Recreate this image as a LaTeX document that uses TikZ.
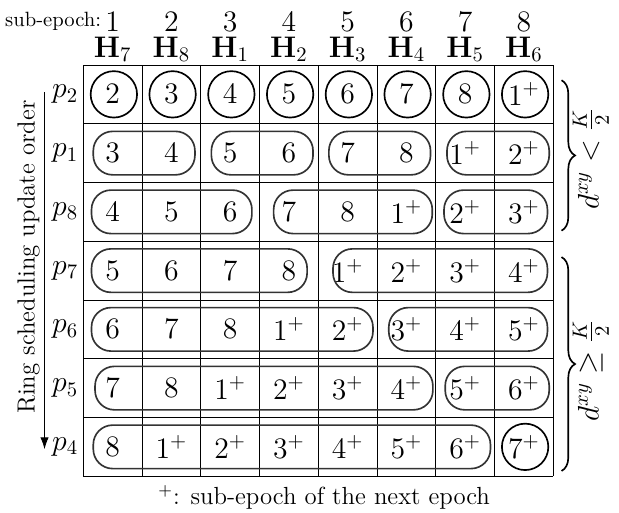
\documentclass[tikz,border=0pt]{standalone}
\usepackage{amsmath, amssymb}
\usetikzlibrary{arrows.meta}
\usetikzlibrary{decorations.pathreplacing,
                positioning,
                calc}

\begin{document}
\begin{tikzpicture}[
        every node/.style={font=\Large},
        cellnum/.style={inner sep=0pt},
        ring/.style={draw, thick},
        pill/.style={draw=black!80, thick, rounded corners=0.33cm},
        rowlabel/.style={anchor=east, inner sep=0pt},
        brace/.style={decorate, decoration={brace, amplitude=0.23cm}, thick}
        ]
        \useasboundingbox (-1.418,-7.609) rectangle (9.118,1.106);

        % Grid
        \draw (0,-7) grid (8,0);

        % Column headers
        \foreach \col/\h [count=\i from 0] in {1/7,2/8,3/1,4/2,5/3,6/4,7/5,8/6} {
            \node[anchor=base, inner sep=0pt] (sub\col) at (\i+0.5,0.57) {\col};
            \node[anchor=base, inner sep=0pt] (H\col) at (\i+0.5,0.13) {$\mathbf{H}_{\h}$};
        }
        \node[anchor=base east, inner sep=0pt, font=\normalsize] (sublabel) at (0.31,0.66) {sub-epoch:};

        % Rows
        \foreach \r/\p/\vals in {0/2/{2,3,4,5,6,7,8,1^+},
                                  1/1/{3,4,5,6,7,8,1^+,2^+},
                                  2/8/{4,5,6,7,8,1^+,2^+,3^+},
                                  3/7/{5,6,7,8,1^+,2^+,3^+,4^+},
                                  4/6/{6,7,8,1^+,2^+,3^+,4^+,5^+},
                                  5/5/{7,8,1^+,2^+,3^+,4^+,5^+,6^+},
                                  6/4/{8,1^+,2^+,3^+,4^+,5^+,6^+,7^+}} {
            \node[rowlabel] (p\p) at (-0.08,-\r-0.5) {$p_{\p}$};
            \foreach \v [count=\j from 0] in \vals
                \node[cellnum] (n\r-\j) at (\j+0.5,-\r-0.5) {$\v$};
        }

        % Groups
        \foreach \r/\a in {0/0,0/1,0/2,0/3,0/4,0/5,0/6,0/7,6/7}
            \draw[ring] ($(n\r-\a)+(0.02,0)$) circle (0.395cm);
        \foreach \r/\a/\b in {1/0.17/1.9, 1/2.18/3.91, 1/4.18/5.91, 1/6.19/7.93,
                              2/0.14/2.87, 2/3.24/5.94, 2/6.14/7.9,
                              3/0.14/3.81, 3/4.25/7.9,
                              4/0.14/4.93, 4/5.2/7.9,
                              5/0.2/5.95, 5/6.16/7.93,
                              6/0.17/6.93}
            \draw[pill] (\a,-\r-0.13) rectangle (\b,-\r-0.87);

        % Update order
        \coordinate (ordertop) at (-0.66,-0.46);
        \coordinate (orderend) at (-0.66,-6.54);
        \draw[-{Latex[length=2mm,width=1.4mm]}] (ordertop) -- (orderend);
        \node[rotate=90, font=\large] (ordertext) at (-0.93,-3.27) {Ring scheduling update order};

        % Braces
        \draw[brace] (8.14,-0.26) -- (8.14,-2.82);
        \draw[brace] (8.14,-3.27) -- (8.14,-6.91);
        \node[rotate=90] (nearlabel) at (8.64,-1.6) {$d^{xy} < \frac{K}{2}$};
        \node[rotate=90] (farlabel) at (8.64,-5.2) {$d^{xy} \geq \frac{K}{2}$};

        % Note
        \node[font=\large] (note) at (4.1,-7.36) {$^+$: sub-epoch of the next epoch};

\end{tikzpicture}
\end{document}
